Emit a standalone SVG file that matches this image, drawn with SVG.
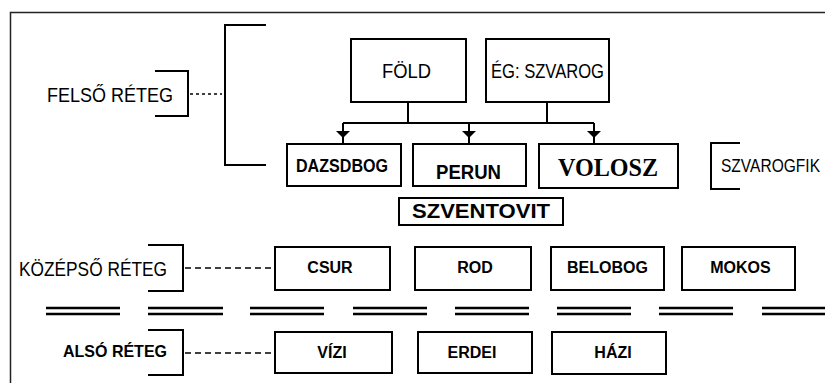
<svg xmlns="http://www.w3.org/2000/svg" width="825" height="383" viewBox="0 0 825 383">
<style>
text{font-family:"Liberation Sans",Arial,sans-serif;fill:#000;text-anchor:middle}
.box{fill:#fff;stroke:#000;stroke-width:2}
.br{fill:none;stroke:#000;stroke-width:2}
.ln{fill:none;stroke:#000;stroke-width:2}
.b{font-weight:bold}
.dl{stroke:#000;stroke-width:2.3}
</style>
<rect width="825" height="383" fill="#fff"/>
<path d="M10.5,383 V12.5 H825" fill="none" stroke="#222" stroke-width="1.5"/>

<g id="felso-reteg">
<text x="110" y="102" font-size="19.5" textLength="126" lengthAdjust="spacingAndGlyphs">FELSŐ RÉTEG</text>
<path class="br" d="M155,71 H188 V116 H155"/>
<path class="br" d="M266,25 H225 V165 H266"/>
</g>
<g id="kozepso-reteg">
<text x="93" y="276" font-size="19.5" textLength="148" lengthAdjust="spacingAndGlyphs">KÖZÉPSŐ RÉTEG</text>
<path class="br" d="M148,245 H183 V291 H148"/>
</g>
<g id="also-reteg">
<text x="115" y="357" font-size="16.5" class="b" textLength="104" lengthAdjust="spacingAndGlyphs">ALSÓ RÉTEG</text>
<path class="br" d="M148,330 H183 V375 H148"/>
</g>

<g id="connectors">
<line x1="190" y1="94" x2="222" y2="94" stroke="#000" stroke-width="1.5" stroke-dasharray="3 3"/>
<line x1="185" y1="268" x2="275" y2="268" stroke="#000" stroke-width="1.5" stroke-dasharray="6 4"/>
<line x1="185" y1="353" x2="275" y2="353" stroke="#000" stroke-width="1.5" stroke-dasharray="6 4"/>
<path class="ln" d="M408,102 V123 M547,102 V123 M343,123 H594 M343,123 V144 M469,123 V144 M594,123 V144"/>
<polygon points="336,131 350,131 343,138"/>
<polygon points="462,131 476,131 469,138"/>
<polygon points="587,131 601,131 594,138"/>
<g class="dl">
<line x1="46" y1="308" x2="120" y2="308"/><line x1="46" y1="314" x2="120" y2="314"/>
<line x1="148" y1="308" x2="223" y2="308"/><line x1="148" y1="314" x2="223" y2="314"/>
<line x1="250" y1="308" x2="324" y2="308"/><line x1="250" y1="314" x2="324" y2="314"/>
<line x1="353" y1="308" x2="427" y2="308"/><line x1="353" y1="314" x2="427" y2="314"/>
<line x1="455" y1="308" x2="529" y2="308"/><line x1="455" y1="314" x2="529" y2="314"/>
<line x1="557" y1="308" x2="631" y2="308"/><line x1="557" y1="314" x2="631" y2="314"/>
<line x1="659" y1="308" x2="733" y2="308"/><line x1="659" y1="314" x2="733" y2="314"/>
<line x1="762" y1="308" x2="825" y2="308"/><line x1="762" y1="314" x2="825" y2="314"/>
</g>
</g>

<g id="fold"><rect class="box" x="351" y="39" width="115" height="63"/><text x="406.5" y="78" font-size="19.5" textLength="49" lengthAdjust="spacingAndGlyphs">FÖLD</text></g>
<g id="eg-szvarog"><rect class="box" x="486" y="39" width="123" height="63"/><text x="547.5" y="78" font-size="19.5" textLength="113" lengthAdjust="spacingAndGlyphs">ÉG: SZVAROG</text></g>

<g id="dazsdbog"><rect class="box" x="287" y="144" width="114" height="42"/><text x="342" y="172" font-size="17.5" class="b" textLength="92" lengthAdjust="spacingAndGlyphs">DAZSDBOG</text></g>
<g id="perun"><rect class="box" x="413" y="144" width="113" height="42"/><text x="468.5" y="179" font-size="19.5" class="b" textLength="65" lengthAdjust="spacingAndGlyphs">PERUN</text></g>
<g id="volosz"><rect class="box" x="539" y="144" width="139" height="44"/><text x="608" y="176" font-size="24.5" class="b" style="font-family:'Liberation Serif','Times New Roman',serif" textLength="100" lengthAdjust="spacingAndGlyphs">VOLOSZ</text></g>
<g id="szvarogfik"><path class="br" d="M740,143 H711 V189 H740"/><text x="721" y="172" font-size="19" style="text-anchor:start" textLength="99" lengthAdjust="spacingAndGlyphs">SZVAROGFIK</text></g>
<g id="szventovit"><rect class="box" x="399" y="198" width="164" height="27"/><text x="481" y="218" font-size="21" class="b" textLength="138" lengthAdjust="spacingAndGlyphs">SZVENTOVIT</text></g>

<g id="csur"><rect class="box" x="275" y="247" width="115" height="43"/><text x="330" y="273" font-size="16" class="b">CSUR</text></g>
<g id="rod"><rect class="box" x="415" y="247" width="116" height="43"/><text x="475" y="273" font-size="16" class="b">ROD</text></g>
<g id="belobog"><rect class="box" x="551" y="247" width="113" height="43"/><text x="607.5" y="273" font-size="16" class="b">BELOBOG</text></g>
<g id="mokos"><rect class="box" x="682" y="247" width="113" height="43"/><text x="740.5" y="273" font-size="16" class="b">MOKOS</text></g>

<g id="vizi"><rect class="box" x="275" y="332" width="117" height="41"/><text x="332" y="358" font-size="16" class="b">VÍZI</text></g>
<g id="erdei"><rect class="box" x="418" y="332" width="114" height="41"/><text x="472" y="358" font-size="16" class="b">ERDEI</text></g>
<g id="hazi"><rect class="box" x="552" y="332" width="114" height="42"/><text x="613" y="358" font-size="16" class="b">HÁZI</text></g>
</svg>
